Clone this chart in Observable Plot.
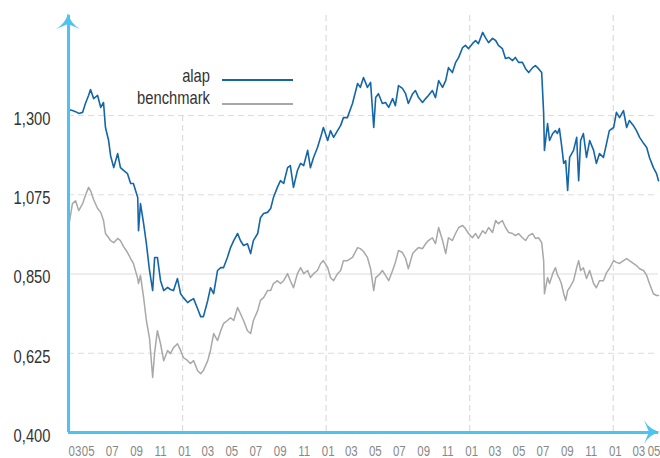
<!DOCTYPE html>
<html><head><meta charset="utf-8">
<script src="https://cdn.jsdelivr.net/npm/d3@7"></script>
<script src="https://cdn.jsdelivr.net/npm/@observablehq/plot@0.6"></script>
<style>
body{margin:0;background:#fff}
#chart{width:660px;height:458px}
</style>
</head><body><div id="chart"></div>
<script>
const dates = [
"2008-03-17","2008-03-27","2008-04-04","2008-04-12","2008-04-22","2008-04-29","2008-05-07","2008-05-12","2008-05-20","2008-05-30",
"2008-06-07","2008-06-14","2008-06-19","2008-06-27","2008-07-02","2008-07-10","2008-07-20","2008-07-27","2008-08-04","2008-08-14",
"2008-08-22","2008-08-29","2008-09-09","2008-09-11","2008-09-16","2008-09-24","2008-10-01","2008-10-09","2008-10-17","2008-10-22",
"2008-10-29","2008-11-06","2008-11-14","2008-11-24","2008-12-01","2008-12-09","2008-12-19","2008-12-27","2009-01-03","2009-01-14",
"2009-01-21","2009-01-29","2009-02-08","2009-02-16","2009-02-23","2009-03-06","2009-03-13",
"2009-03-21","2009-03-31","2009-04-08","2009-04-15","2009-04-25","2009-05-03","2009-05-11","2009-05-21","2009-05-28","2009-06-05",
"2009-06-15","2009-06-23","2009-06-30","2009-07-11","2009-07-18","2009-07-26","2009-08-05","2009-08-13","2009-08-20","2009-08-30",
"2009-09-07","2009-09-15","2009-09-25","2009-10-02","2009-10-10","2009-10-20","2009-10-28","2009-11-05","2009-11-15","2009-11-22",
"2009-11-30","2009-12-10","2009-12-18","2009-12-25","2010-01-05","2010-01-12","2010-01-20","2010-01-30","2010-02-07","2010-02-14",
"2010-02-24","2010-03-09","2010-03-22","2010-03-29","2010-04-06","2010-04-16","2010-04-24","2010-05-02","2010-05-07","2010-05-14",
"2010-05-24","2010-06-01","2010-06-09","2010-06-19","2010-06-26","2010-07-04","2010-07-14","2010-07-22","2010-07-29","2010-08-09",
"2010-08-16","2010-08-24","2010-09-03","2010-09-11","2010-09-18","2010-09-28","2010-10-06","2010-10-14","2010-10-24","2010-11-01",
"2010-11-08","2010-11-18","2010-11-26","2010-12-04","2010-12-14","2010-12-21","2010-12-29","2011-01-08","2011-01-16","2011-01-23",
"2011-02-03","2011-02-10","2011-02-18","2011-02-28","2011-03-08",
"2011-03-15","2011-03-25","2011-04-02","2011-04-10","2011-04-20","2011-04-27","2011-05-05","2011-05-15","2011-05-23","2011-05-31",
"2011-06-10","2011-06-17","2011-06-25","2011-07-03","2011-07-08","2011-07-10","2011-07-18","2011-07-23","2011-07-31","2011-08-07",
"2011-08-12","2011-08-17","2011-08-22","2011-08-28","2011-09-02","2011-09-07","2011-09-12","2011-09-22","2011-09-30","2011-10-05",
"2011-10-10","2011-10-17","2011-10-25","2011-11-02","2011-11-12","2011-11-19","2011-11-27","2011-12-07","2011-12-15","2011-12-22",
"2012-01-02","2012-01-09","2012-01-17","2012-01-27","2012-02-04","2012-02-11","2012-02-21","2012-02-29","2012-03-08","2012-03-18",
"2012-03-26","2012-04-02","2012-04-12","2012-04-20","2012-04-25"
];
const alap = [
1.317,1.314,1.311,1.306,1.309,1.334,1.357,1.374,1.348,1.357,
1.323,1.337,1.266,1.229,1.186,1.152,1.192,1.152,1.144,1.135,
1.107,1.107,1.067,0.973,1.050,0.993,0.936,0.860,0.803,0.897,
0.897,0.831,0.803,0.812,0.806,0.803,0.837,0.794,0.783,0.769,
0.775,0.780,0.752,0.729,0.729,0.775,0.811,
0.794,0.860,0.868,0.868,0.897,0.925,0.945,0.965,0.945,0.931,
0.936,0.908,0.945,0.965,1.010,1.022,1.025,1.036,1.067,1.096,
1.115,1.107,1.152,1.158,1.096,1.144,1.164,1.158,1.201,1.152,
1.181,1.209,1.238,1.266,1.229,1.257,1.238,1.257,1.272,1.294,
1.294,1.334,1.391,1.380,1.408,1.380,1.394,1.266,1.351,1.362,
1.334,1.337,1.323,1.348,1.328,1.385,1.377,1.362,1.334,1.362,
1.371,1.351,1.337,1.348,1.357,1.371,1.351,1.399,1.380,1.399,
1.436,1.422,1.450,1.465,1.493,1.499,1.490,1.504,1.513,1.504,
1.536,1.521,1.507,1.519,1.513,
1.499,1.490,1.462,1.465,1.456,1.465,1.451,1.451,1.433,1.422,
1.436,1.442,1.433,1.422,1.306,1.201,1.277,1.229,1.249,1.257,
1.249,1.263,1.221,1.164,1.172,1.087,1.181,1.201,1.238,1.115,
1.229,1.249,1.181,1.229,1.201,1.164,1.192,1.181,1.221,1.257,
1.266,1.309,1.294,1.314,1.266,1.286,1.272,1.257,1.238,1.221,
1.209,1.181,1.152,1.135,1.115
];
const benchmark = [
0.982,1.050,1.058,1.030,1.050,1.073,1.096,1.087,1.061,1.036,
1.025,1.002,0.965,0.953,0.945,0.939,0.951,0.945,0.928,0.911,
0.894,0.880,0.837,0.823,0.846,0.783,0.718,0.667,0.556,0.627,
0.689,0.652,0.604,0.633,0.624,0.641,0.652,0.633,0.613,0.604,
0.596,0.604,0.576,0.567,0.576,0.604,0.633,
0.681,0.661,0.689,0.709,0.718,0.726,0.718,0.755,0.738,0.718,
0.689,0.681,0.718,0.746,0.775,0.783,0.803,0.803,0.823,0.831,
0.823,0.831,0.851,0.831,0.811,0.851,0.868,0.851,0.860,0.840,
0.851,0.860,0.880,0.888,0.868,0.840,0.831,0.851,0.860,0.888,
0.888,0.897,0.925,0.922,0.914,0.897,0.865,0.803,0.840,0.846,
0.860,0.846,0.831,0.860,0.883,0.917,0.911,0.894,0.865,0.908,
0.917,0.925,0.922,0.936,0.945,0.953,0.936,0.982,0.945,0.908,
0.953,0.945,0.965,0.982,0.988,0.979,0.965,0.953,0.965,0.951,
0.973,0.965,0.982,0.968,1.002,
0.993,1.002,0.982,0.968,0.965,0.959,0.965,0.953,0.945,0.959,
0.965,0.951,0.953,0.939,0.888,0.794,0.840,0.823,0.851,0.868,
0.848,0.837,0.823,0.794,0.775,0.803,0.811,0.831,0.868,0.888,
0.860,0.868,0.837,0.860,0.823,0.811,0.831,0.831,0.854,0.865,
0.888,0.883,0.880,0.888,0.894,0.888,0.880,0.874,0.865,0.860,
0.846,0.823,0.794,0.789,0.789
];
const seriesNames = ["alap", "benchmark"];
const seriesColors = ["#1466a8", "#a8a8a8"];
const yTicks = [0.400, 0.625, 0.850, 1.075, 1.300];
const yTop = 1.584;
const xTickDates = ["2008-03-01","2008-05-01","2008-07-01","2008-09-01","2008-11-01",
"2009-01-01","2009-03-01","2009-05-01","2009-07-01","2009-09-01","2009-11-01",
"2010-01-01","2010-03-01","2010-05-01","2010-07-01","2010-09-01","2010-11-01",
"2011-01-01","2011-03-01","2011-05-01","2011-07-01","2011-09-01","2011-11-01",
"2012-01-01","2012-03-01","2012-05-01"];
const xTickLabels = ["03","05","07","09","11","01","03","05","07","09","11","01","03","05","07","09","11","01","03","05","07","09","11","01","03","05"];
const yearLines = ["2009-01-01","2010-01-01","2011-01-01","2012-01-01"];

const FONT = '"Liberation Sans",Arial,sans-serif';
const NARROW = 0.82; // horizontal squeeze to mimic the reference's narrow face
const AXIS = "#4dc3ef";
const parse = d3.utcParse("%Y-%m-%d");
const rows = dates.map((d, i) => ({date: parse(d), alap: alap[i], benchmark: benchmark[i]}));
const x0 = rows[0].date, x1 = rows[rows.length - 1].date;
const clampDate = d => d < x0 ? x0 : d > x1 ? x1 : d;
const ticks = xTickDates.map((d, i) => ({date: parse(d), label: xTickLabels[i]}));
const n = ticks.length;
const fmtY = v => d3.format(".3f")(v).replace(".", ",");

const plot = Plot.plot({
  width: 660, height: 458,
  marginLeft: 68, marginRight: 2, marginTop: 15, marginBottom: 26,
  x: {type: "utc", domain: [x0, x1], axis: null},
  y: {domain: [0.4, yTop], axis: null},
  style: {fontFamily: FONT, background: "white", overflow: "visible"},
  marks: [
    Plot.ruleY(yTicks.filter(v => v > 0.4 && v !== 0.85), {stroke: "#dcdcdc", strokeWidth: 1, strokeDasharray: "6,4"}),
    Plot.ruleY(yTicks.filter(v => v === 0.85), {stroke: "#dcdcdc", strokeWidth: 1}),
    Plot.ruleX(yearLines, {x: d => parse(d), stroke: "#dcdcdc", strokeWidth: 1.2, strokeDasharray: "6,4"}),
    Plot.line(rows, {x: "date", y: seriesNames[1], stroke: seriesColors[1], strokeWidth: 1.5}),
    Plot.line(rows, {x: "date", y: seriesNames[0], stroke: seriesColors[0], strokeWidth: 1.6}),
    Plot.ruleX([x0], {stroke: AXIS, strokeWidth: 3}),
    Plot.ruleY([0.4], {stroke: AXIS, strokeWidth: 3}),
    Plot.text(yTicks, {x: x0, y: d => d, text: fmtY, textAnchor: "end", dx: -18, dy: 3.5, fill: "#333", fontSize: 18}),
    Plot.text(ticks.slice(0, 1), {x: d => clampDate(d.date), y: 0.4, text: "label", textAnchor: "start", dy: 19, fill: "#888", fontSize: 14}),
    Plot.text(ticks.slice(1, n - 1), {x: "date", y: 0.4, text: "label", dx: 2, dy: 19, fill: "#888", fontSize: 14}),
    Plot.text(ticks.slice(n - 1), {x: d => clampDate(d.date), y: 0.4, text: "label", textAnchor: "end", dx: 2, dy: 19, fill: "#888", fontSize: 14})
  ]
});

// Decorations: axis arrowheads and legend
const sx = plot.scale("x"), sy = plot.scale("y");
const axX = sx.apply(x0), axY = sy.apply(0.4), axTop = sy.apply(yTop), axRight = sx.apply(x1);
const svg = d3.select(plot);
const arrowPath = "M0,0 Q2,10 12,16 L0,11 L-12,16 Q-2,10 0,0Z";
svg.append("path").attr("d", arrowPath)
  .attr("transform", `translate(${axX},${axTop - 2})`).attr("fill", AXIS);
svg.append("line").attr("x1", axRight - 4).attr("x2", axRight - 2).attr("y1", axY).attr("y2", axY)
  .attr("stroke", AXIS).attr("stroke-width", 3);
svg.append("path").attr("d", arrowPath)
  .attr("transform", `translate(${axRight + 2},${axY}) rotate(90)`).attr("fill", AXIS);

// legend placed after gridlines, before series lines
const lineNodes = svg.selectAll("g[aria-label='line']").nodes();
const leg = svg.insert("g", () => lineNodes[0] || null).attr("font-family", FONT).attr("font-size", 18);
leg.append("rect").attr("x", 118).attr("y", 15).attr("width", 184).attr("height", 97).attr("fill", "white");
const legY = [[82, 80], [104, 104]];
seriesNames.forEach((name, i) => {
  leg.append("text").attr("transform", `translate(210,${legY[i][0]})`).attr("text-anchor", "end").attr("fill", "#333").text(name);
  leg.append("line").attr("x1", 222).attr("x2", 293).attr("y1", legY[i][1]).attr("y2", legY[i][1])
    .attr("stroke", seriesColors[i]).attr("stroke-width", 2);
});

// narrow all text horizontally around its anchor point
svg.selectAll("text").each(function() {
  const t = this.getAttribute("transform") || "";
  this.setAttribute("transform", `${t} scale(${NARROW},1)`);
});

document.getElementById("chart").appendChild(plot);
</script>
</body></html>
